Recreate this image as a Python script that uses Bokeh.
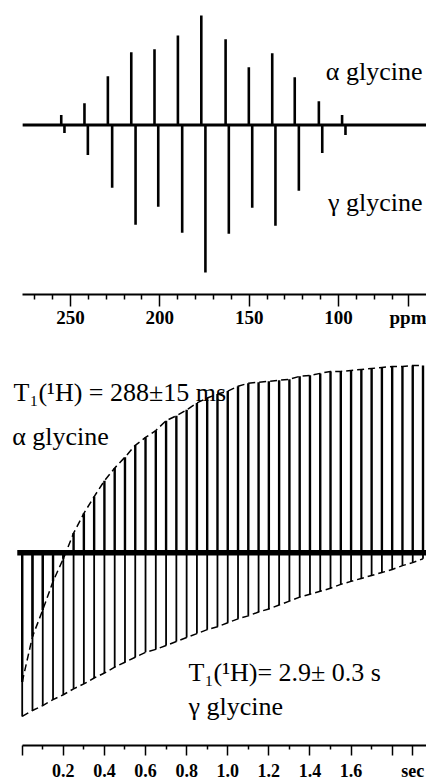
from bokeh.plotting import figure
from bokeh.layouts import column
from bokeh.models import Range1d, FixedTicker, Label
from bokeh.embed import file_html
from bokeh.resources import INLINE

# ---------------- data: top panel (13C CP-MAS spectrum, ppm) ----------------
alpha_ppm = [255.2, 242.2, 229.1, 216.0, 203.0, 189.9, 176.8, 163.2, 150.2, 137.1, 124.5, 111.0, 98.0]
alpha_int = [10, 22, 49, 73, 76, 90, 110, 86, 58, 72, 48, 24, 10]
gamma_ppm = [253.4, 240.3, 226.7, 213.6, 200.9, 187.5, 174.5, 161.4, 148.3, 135.3, 122.2, 109.1, 96.1]
gamma_int = [-8, -30, -63, -100, -82, -108, -148, -109, -83, -101, -66, -28, -10]
ppm_major = [250, 200, 150, 100, 61]
ppm_labels = ["250", "200", "150", "100", "ppm"]
ppm_minor = [270, 260, 240, 230, 220, 210, 190, 180, 170, 160, 140, 130, 120, 110, 90, 80, 70]

# ---------------- data: bottom panel (inversion recovery, seconds) ----------------
t_sec = [0.00, 0.05, 0.10, 0.15, 0.20, 0.25, 0.30, 0.35, 0.40, 0.45,
         0.50, 0.55, 0.60, 0.65, 0.70, 0.75, 0.80, 0.85, 0.90, 0.95,
         1.00, 1.05, 1.10, 1.15, 1.20, 1.25, 1.30, 1.35, 1.40, 1.45,
         1.50, 1.55, 1.60, 1.65, 1.70, 1.75, 1.80, 1.85, 1.90, 1.95]
alpha_rec = [-131, -85, -58, -29, -6, 20, 40, 57, 73, 86,
             97, 109, 117, 124, 134, 139, 145, 152, 157, 161,
             164, 169, 172, 173, 174, 175, 176, 179, 180, 182,
             184, 184, 185, 186, 187, 188, 189, 189, 190, 190]
gamma_rec = [-166, -160, -155, -149, -144, -138, -133, -127, -122, -116,
             -111, -106, -101, -98, -94, -90, -86, -82, -78, -75,
             -71, -67, -64, -60, -57, -53, -49, -45, -42, -39,
             -36, -32, -29, -26, -23, -20, -17, -13, -10, -6]
sec_ticks = [0, 0.2, 0.4, 0.6, 0.8, 1.0, 1.2, 1.4, 1.6, 1.8, 1.9]
sec_labels = ["", "0.2", "0.4", "0.6", "0.8", "1.0", "1.2", "1.4", "1.6", "", "sec"]
sec_minor = [0.1, 0.3, 0.5, 0.7, 0.9, 1.1, 1.3, 1.5, 1.7]

FONT = "Liberation Serif"
W = 426


def style_axis(ax, tick_out, minor_out, size, standoff):
    ax.axis_line_width = 2
    ax.axis_line_color = "black"
    ax.major_tick_in = 0
    ax.major_tick_out = tick_out
    ax.minor_tick_in = 0
    ax.minor_tick_out = minor_out
    ax.major_tick_line_width = 1.5
    ax.minor_tick_line_width = 1.5
    ax.major_tick_line_color = "black"
    ax.minor_tick_line_color = "black"
    ax.major_label_text_font = FONT
    ax.major_label_text_font_style = "bold"
    ax.major_label_text_font_size = size
    ax.major_label_text_color = "black"
    ax.major_label_standoff = standoff


# ---------------- top figure ----------------
top = figure(width=W, height=330, output_backend="svg", toolbar_location=None,
             x_range=Range1d(289.2, 50.75), y_range=Range1d(-170, 125),
             y_axis_location=None, min_border_left=0, min_border_right=0,
             min_border_top=0, min_border_bottom=35)
top.outline_line_color = None
top.grid.visible = False

top.line([276.8, 50.75], [0, 0], line_width=3, color="black")
top.segment(x0=gamma_ppm, y0=[0] * len(gamma_ppm), x1=gamma_ppm, y1=gamma_int,
            line_width=2.6, color="black")
top.segment(x0=alpha_ppm, y0=[0] * len(alpha_ppm), x1=alpha_ppm, y1=alpha_int,
            line_width=2.6, color="black")

ax = top.xaxis[0]
ax.ticker = FixedTicker(ticks=ppm_major, minor_ticks=ppm_minor)
ax.major_label_overrides = {k: v for k, v in zip(ppm_major, ppm_labels)}
ax.bounds = (50.75, 276.8)
style_axis(ax, 12, 5, "19px", 0)

top.add_layout(Label(x=53.0, y=54, text="α glycine", text_align="right",
                     text_baseline="alphabetic", text_font=FONT,
                     text_font_size="26px", text_color="black"))
top.add_layout(Label(x=53.0, y=-78, text="γ glycine", text_align="right",
                     text_baseline="alphabetic", text_font=FONT,
                     text_font_size="26px", text_color="black"))

# ---------------- bottom figure ----------------
bot = figure(width=W, height=453, output_backend="svg", toolbar_location=None,
             x_range=Range1d(-0.1056, 1.967), y_range=Range1d(-195.5, 225.5),
             y_axis_location=None, min_border_left=0, min_border_right=0,
             min_border_top=0, min_border_bottom=32)
bot.outline_line_color = None
bot.grid.visible = False

bot.line([-0.024, 1.967], [0, 0], line_width=5.5, color="black")
bot.segment(x0=t_sec, y0=[0] * len(t_sec), x1=t_sec, y1=gamma_rec,
            line_width=1.8, color="black")
bot.segment(x0=t_sec, y0=[0] * len(t_sec), x1=t_sec, y1=alpha_rec,
            line_width=2.4, color="black")
bot.line(t_sec, alpha_rec, line_dash="7 4", line_width=1.5, color="black")
bot.line(t_sec, gamma_rec, line_dash="7 4", line_width=1.5, color="black")

bx = bot.xaxis[0]
bx.ticker = FixedTicker(ticks=sec_ticks, minor_ticks=sec_minor)
bx.major_label_overrides = {k: v for k, v in zip(sec_ticks, sec_labels)}
bx.bounds = (0, 1.967)
style_axis(bx, 10, 4, "18px", 5)

for (x, y, txt) in [(-0.0423, 162.2, "T₁(¹H) = 288±15 ms"),
                    (-0.0487, 117.5, "α glycine"),
                    (0.8093, -121.5, "T₁(¹H)= 2.9± 0.3 s"),
                    (0.8093, -155.5, "γ glycine")]:
    bot.add_layout(Label(x=x, y=y, text=txt, text_align="left",
                         text_baseline="alphabetic", text_font=FONT,
                         text_font_size="26px", text_color="black"))

layout = column(top, bot, spacing=0)
open("out.html", "w").write(file_html(layout, INLINE))
